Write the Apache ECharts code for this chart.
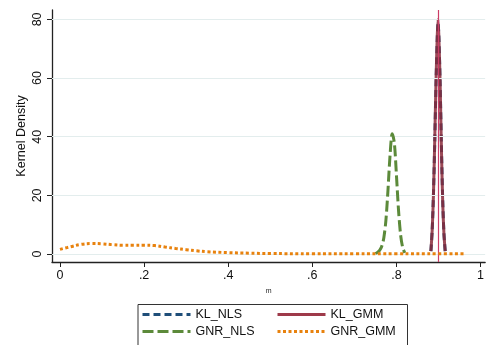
<!DOCTYPE html>
<html>
<head>
<meta charset="utf-8">
<script src="https://cdn.jsdelivr.net/npm/echarts@6/dist/echarts.min.js"></script>
<style>
  html, body { margin: 0; padding: 0; background: #fff; }
  #chart { width: 487px; height: 345px; }
</style>
</head>
<body>
<div id="chart"></div>
<script>
// Kernel density estimates of m for four estimators
const klNlsX = [0.882, 0.885, 0.888, 0.891, 0.894, 0.897, 0.899, 0.901, 0.904, 0.907, 0.910, 0.913, 0.916];
const klNlsY = [1, 8, 20, 37, 57, 73, 79, 74, 58, 37, 19, 7, 1];

const klGmmX = [0.882, 0.885, 0.888, 0.891, 0.894, 0.897, 0.899, 0.901, 0.904, 0.907, 0.910, 0.913, 0.916];
const klGmmY = [1, 8, 20, 38, 58, 74, 80, 74, 58, 36, 18, 7, 1];

const gnrNlsX = [0.750, 0.755, 0.760, 0.765, 0.770, 0.775, 0.780, 0.785, 0.790, 0.795, 0.800, 0.805, 0.810, 0.815, 0.820];
const gnrNlsY = [0.2, 0.6, 1.3, 2.6, 5.5, 11.5, 22, 34, 41, 38, 27, 15, 6.5, 2.2, 0.4];

const gnrGmmX = [0, 0.025, 0.05, 0.075, 0.1, 0.125, 0.15, 0.175, 0.2, 0.225, 0.25, 0.275, 0.3, 0.325, 0.35, 0.4, 0.45, 0.5, 0.6, 0.7, 0.8, 0.9, 0.96];
const gnrGmmY = [1.6, 2.5, 3.3, 3.6, 3.5, 3.2, 3.0, 3.0, 3.0, 2.9, 2.4, 1.9, 1.5, 1.1, 0.8, 0.5, 0.3, 0.2, 0.1, 0.1, 0.15, 0.1, 0.1];

const xTicks = [0, 0.2, 0.4, 0.6, 0.8, 1];
const xTickLabels = ['0', '.2', '.4', '.6', '.8', '1'];
const yTicks = [0, 20, 40, 60, 80];
const refLineX = 0.9;

const FONT = "'Liberation Sans', Arial, Helvetica, sans-serif";
const pairs = (xs, ys) => xs.map((x, i) => [x, ys[i]]);

const chart = echarts.init(document.getElementById('chart'), null, { renderer: 'canvas' });

// one legend block per entry so the two columns line up
const legendAt = (name, left, top, lineColor) => ({
  data: [lineColor ? { name, lineStyle: { color: lineColor } } : name],
  left, top,
  padding: 0,
  itemWidth: 48, itemHeight: 12,
  itemStyle: { opacity: 0 },
  lineStyle: { width: 3, opacity: 1 },
  textStyle: { fontFamily: FONT, fontSize: 12.5, color: '#111' }
});

chart.setOption({
  animation: false,
  backgroundColor: '#fff',
  grid: { left: 52, right: 1, top: 10, bottom: 83, containLabel: false },
  xAxis: {
    type: 'value',
    min: -0.019,
    max: 1.011,
    name: 'm',
    nameLocation: 'middle',
    nameGap: 26,
    nameTextStyle: { fontFamily: FONT, fontSize: 7, color: '#222' },
    axisLine: { show: true, onZero: false, lineStyle: { color: '#222', width: 1.3 } },
    axisTick: { show: true, length: 5, customValues: xTicks, lineStyle: { color: '#222', width: 1 } },
    axisLabel: {
      customValues: xTicks,
      margin: 7,
      fontFamily: FONT, fontSize: 12.5, color: '#111',
      formatter: v => { const i = xTicks.findIndex(t => Math.abs(t - v) < 1e-9); return i >= 0 ? xTickLabels[i] : ''; }
    },
    splitLine: { show: false }
  },
  yAxis: {
    type: 'value',
    min: -2.7,
    max: 83.2,
    name: 'Kernel Density',
    nameLocation: 'middle',
    nameGap: 24,
    nameMoveOverlap: false,
    nameRotate: 90,
    nameTextStyle: { fontFamily: FONT, fontSize: 12.5, color: '#111' },
    axisLine: { show: true, onZero: false, lineStyle: { color: '#222', width: 1.3 } },
    axisTick: { show: true, length: 5, customValues: yTicks, lineStyle: { color: '#222', width: 1 } },
    axisLabel: {
      customValues: yTicks,
      rotate: 90,
      margin: 8,
      fontFamily: FONT, fontSize: 12.5, color: '#111'
    },
    splitLine: { show: false }
  },
  legend: [
    legendAt('KL_NLS', 141, 308),
    legendAt('KL_GMM', 276, 308, '#9e3a4a'),
    legendAt('GNR_NLS', 141, 325),
    legendAt('GNR_GMM', 276, 325)
  ],
  graphic: [
    {
      type: 'rect',
      left: 135.5, top: 302,
      shape: { width: 269.5, height: 42 },
      style: { fill: 'none', stroke: '#333', lineWidth: 1 },
      silent: true
    }
  ],
  series: [
    {
      name: 'gridlines',
      type: 'line',
      data: [],
      silent: true,
      z: 1,
      markLine: {
        silent: true,
        symbol: ['none', 'none'],
        label: { show: false },
        lineStyle: { color: '#e3eded', width: 1, type: 'solid' },
        data: yTicks.map(v => ({ yAxis: v }))
      }
    },
    {
      name: 'KL_NLS',
      type: 'line',
      data: pairs(klNlsX, klNlsY),
      showSymbol: false, symbol: 'none',
      smooth: 0.3,
      z: 3,
      itemStyle: { color: '#1f4e79' },
      lineStyle: { color: '#1f4e79', width: 3, type: [7, 4] }
    },
    {
      name: 'KL_GMM',
      type: 'line',
      data: pairs(klGmmX, klGmmY),
      showSymbol: false, symbol: 'none',
      smooth: 0.3,
      z: 4,
      itemStyle: { color: '#9e3a4a' },
      lineStyle: { color: '#8a2a3a', width: 3, opacity: 0.85 }
    },
    {
      name: 'GNR_NLS',
      type: 'line',
      data: pairs(gnrNlsX, gnrNlsY),
      showSymbol: false, symbol: 'none',
      smooth: 0.3,
      z: 5,
      itemStyle: { color: '#5c8a3a' },
      lineStyle: { color: '#5c8a3a', width: 3, type: [11, 4] }
    },
    {
      name: 'GNR_GMM',
      type: 'line',
      data: pairs(gnrGmmX, gnrGmmY),
      showSymbol: false, symbol: 'none',
      smooth: 0.4,
      z: 6,
      itemStyle: { color: '#e8820e' },
      lineStyle: { color: '#e8820e', width: 3, type: [3, 2.5], cap: 'butt' }
    },
    {
      name: 'refline',
      type: 'line',
      data: [],
      silent: true,
      z: 7,
      markLine: {
        silent: true,
        symbol: ['none', 'none'],
        label: { show: false },
        lineStyle: { color: '#cc3d66', width: 1.2, type: 'solid' },
        data: [{ xAxis: refLineX }]
      }
    }
  ]
});
</script>
</body>
</html>
